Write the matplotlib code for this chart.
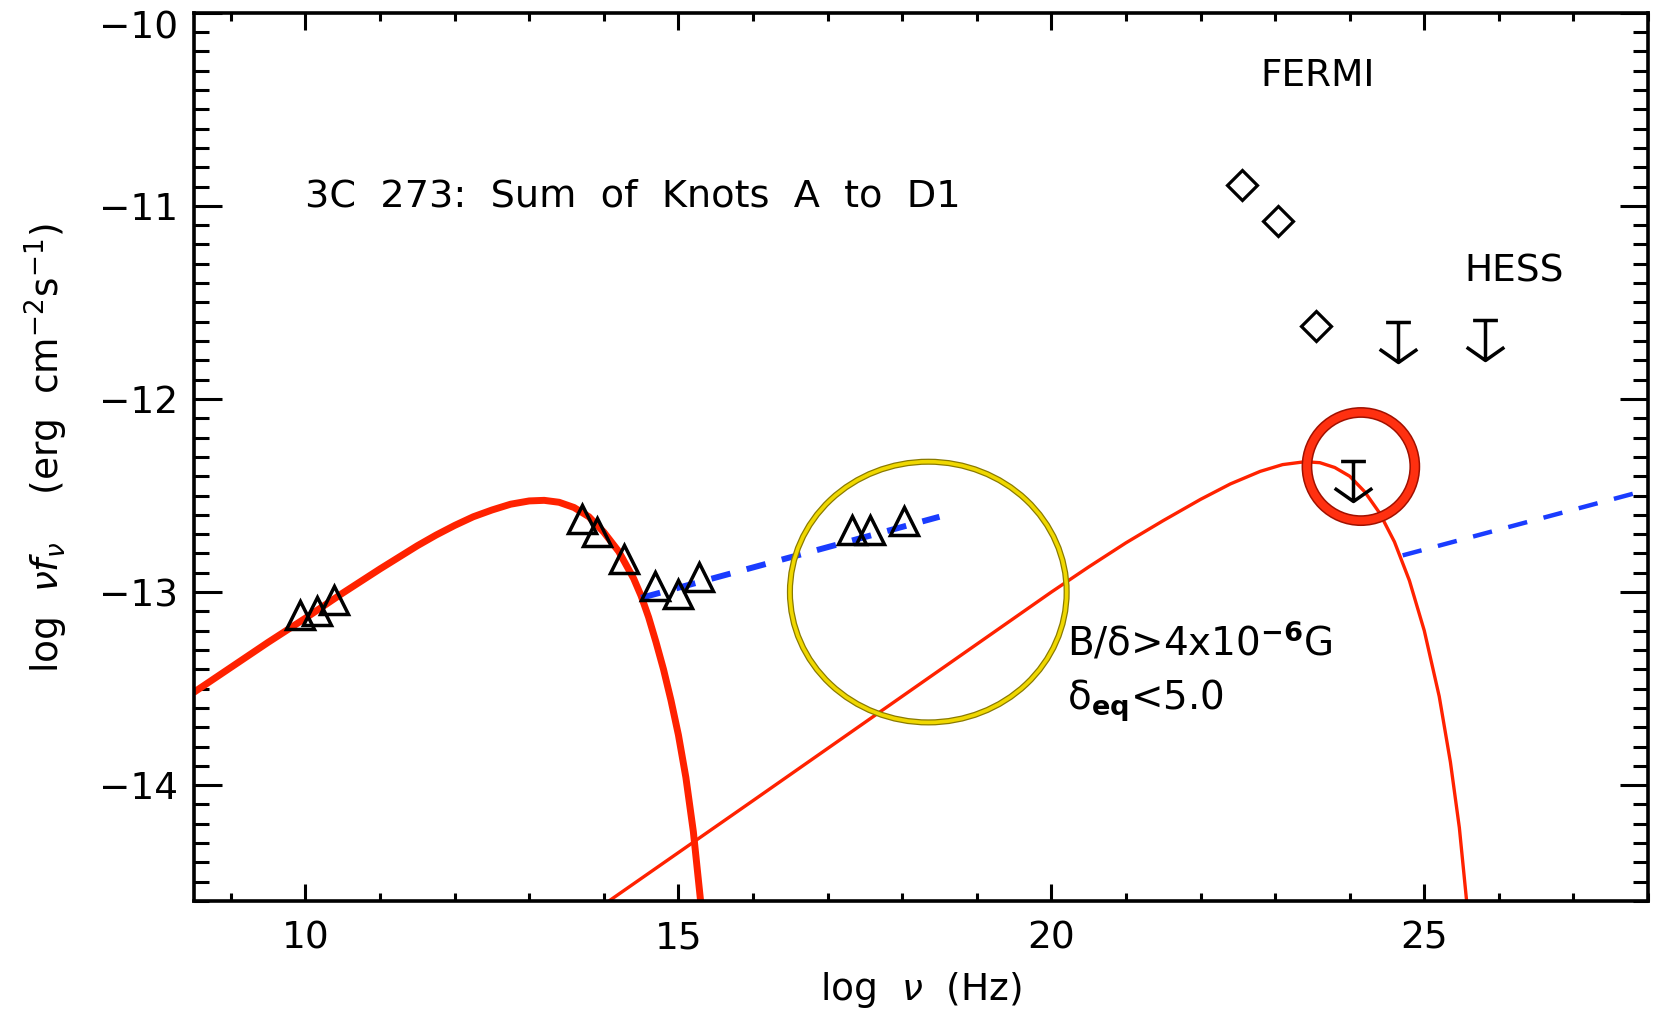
import matplotlib
matplotlib.use('Agg')
import matplotlib.pyplot as plt
from matplotlib.path import Path
from matplotlib.patches import Ellipse
from matplotlib.ticker import MultipleLocator
from matplotlib.transforms import ScaledTranslation

plt.rcParams['font.family'] = ['DejaVu Sans']
plt.rcParams['mathtext.fontset'] = 'dejavusans'

# measured fluxes, knots A-D1 summed (log nu, log nuFnu)
radio_x = [9.93, 10.15, 10.38]
radio_y = [-13.12, -13.10, -13.04]
opt_x = [13.71, 13.91, 14.27, 14.69, 15.00, 15.27]
opt_y = [-12.62, -12.69, -12.83, -12.97, -13.01, -12.92]
xray_x = [17.33, 17.57, 18.02]
xray_y = [-12.68, -12.68, -12.63]

# gamma-ray
fermi_x = [22.55, 23.04, 23.55]
fermi_y = [-10.89, -11.08, -11.62]
fermi_ul_x = [24.04]
fermi_ul_y = [-12.32]
hess_ul_x = [24.65, 25.82]
hess_ul_y = [-11.60, -11.59]

# synchrotron model
sync_x = [8.5, 9.0, 9.5, 10.0, 10.5, 11.0, 11.5, 11.75, 12.0, 12.25, 12.5,
          12.75, 13.0, 13.2, 13.4, 13.6, 13.8, 14.0, 14.1, 14.2, 14.3, 14.4,
          14.5, 14.6, 14.7, 14.8, 14.9, 15.0, 15.1, 15.2, 15.3]
sync_y = [-13.52, -13.39, -13.26, -13.135, -13.005, -12.88, -12.76, -12.705,
          -12.655, -12.61, -12.575, -12.545, -12.528, -12.525, -12.535,
          -12.562, -12.61, -12.69, -12.74, -12.79, -12.86, -12.93, -13.02,
          -13.13, -13.26, -13.40, -13.56, -13.74, -13.96, -14.24, -14.61]

# IC/CMB model
ic_x = [14.03, 16.0, 18.0, 20.0, 20.5, 21.0, 21.5, 22.0, 22.4, 22.8, 23.1,
        23.4, 23.6, 23.8, 24.0, 24.2, 24.4, 24.6, 24.8, 25.0, 25.2, 25.35,
        25.47, 25.57]
ic_y = [-14.61, -14.08, -13.54, -13.00, -12.87, -12.745, -12.63, -12.52,
        -12.44, -12.375, -12.34, -12.325, -12.33, -12.355, -12.40, -12.48,
        -12.59, -12.74, -12.94, -13.20, -13.54, -13.88, -14.22, -14.61]

# power-law extensions
xpl_x = [14.5, 18.5]
xpl_y = [-13.03, -12.61]
gpl_x = [24.71, 28.0]
gpl_y = [-12.81, -12.47]

red = '#ff2200'
blue = '#1a3cff'
fs = 27

fig = plt.figure(figsize=(16.59, 10.28), dpi=100)
ax = fig.add_axes([0.1167, 0.1235, 0.8767, 0.8641])

ax.plot(sync_x, sync_y, color=red, lw=5.0, solid_capstyle='butt',
        solid_joinstyle='round')
ax.plot(ic_x, ic_y, color=red, lw=2.4, solid_joinstyle='round')
ax.plot(xpl_x, xpl_y, color=blue, lw=4.3, dashes=(3.3, 2.8))
ax.plot(gpl_x, gpl_y, color=blue, lw=3.2, dashes=(4.4, 3.8))

tri = dict(ls='none', marker='^', ms=20, mfc='none', mec='black', mew=2.5)
ax.plot(radio_x, radio_y, **tri)
ax.plot(opt_x, opt_y, **tri)
ax.plot(xray_x, xray_y, **tri)

ax.plot(fermi_x, fermi_y, ls='none', marker='D', ms=15.5, mfc='none',
        mec='black', mew=2.3)

# upper limit: bar at the value, arrow pointing down
ul_path = Path([(-0.31, 0), (0.31, 0), (0, 0), (0, -1),
                (-0.47, -0.67), (0, -1), (0.47, -0.67)],
               [Path.MOVETO, Path.LINETO, Path.MOVETO, Path.LINETO,
                Path.MOVETO, Path.LINETO, Path.LINETO])
ul = dict(ls='none', marker=ul_path, ms=57.6, mfc='none', mec='black', mew=2.5)
ax.plot(hess_ul_x, hess_ul_y, **ul)
ax.plot(fermi_ul_x, fermi_ul_y, **ul)

# highlight rings
ax.add_patch(Ellipse((18.35, -13.0), 3.71, 1.35, fill=False,
                     ec='#8a7a00', lw=4.4, zorder=5))
ax.add_patch(Ellipse((18.35, -13.0), 3.71, 1.35, fill=False,
                     ec='#f0d800', lw=2.6, zorder=6))
ax.add_patch(Ellipse((24.15, -12.35), 1.446, 0.56, fill=False,
                     ec='#a01000', lw=7.8, zorder=5))
ax.add_patch(Ellipse((24.15, -12.35), 1.446, 0.56, fill=False,
                     ec='#ff3010', lw=5.6, zorder=6))

ax.text(9.99, -10.95, '3C  273:  Sum  of  Knots  A  to  D1', fontsize=27.5,
        ha='left', va='center')
ax.text(23.57, -10.33, 'FERMI', fontsize=fs, ha='center', va='center')
ax.text(26.2, -11.34, 'HESS', fontsize=fs, ha='center', va='center')
ax.text(20.21, -13.33, r'B/δ>4x10$^{\mathbf{-6}}$G', fontsize=28,
        ha='left', va='baseline')
ax.text(20.21, -13.61, r'δ$_{\mathbf{eq}}$<5.0', fontsize=28,
        ha='left', va='baseline')

ax.set_xlim(8.5, 28.0)
ax.set_ylim(-14.6, -10.0)
ax.xaxis.set_major_locator(MultipleLocator(5))
ax.xaxis.set_minor_locator(MultipleLocator(1))
ax.yaxis.set_major_locator(MultipleLocator(1))
ax.yaxis.set_minor_locator(MultipleLocator(0.1))

ax.tick_params(which='both', direction='in', top=True, right=True,
               width=2.2, labelsize=fs)
ax.tick_params(axis='y', which='major', length=20, pad=11)
ax.tick_params(axis='y', which='minor', length=10.8)
ax.tick_params(axis='x', which='major', length=12.2, pad=14)
ax.tick_params(axis='x', which='minor', length=5.8)
for s in ax.spines.values():
    s.set_linewidth(2.6)

ax.set_xlabel(r'log  $\nu$  (Hz)', fontsize=fs, labelpad=10)
ax.set_ylabel(r'log  $\nu f_{\nu}$    (erg  cm$^{-2}$s$^{-1}$)', fontsize=fs)
ax.yaxis.set_label_coords(-0.085, 0.51)

# keep the top y label inside the frame
fig.canvas.draw()
for lab in ax.get_yticklabels():
    if lab.get_text().replace('\u2212', '-') == '-10':
        lab.set_transform(lab.get_transform() +
                          ScaledTranslation(0, -0.12, fig.dpi_scale_trans))

fig.savefig('out.png', dpi=100)
